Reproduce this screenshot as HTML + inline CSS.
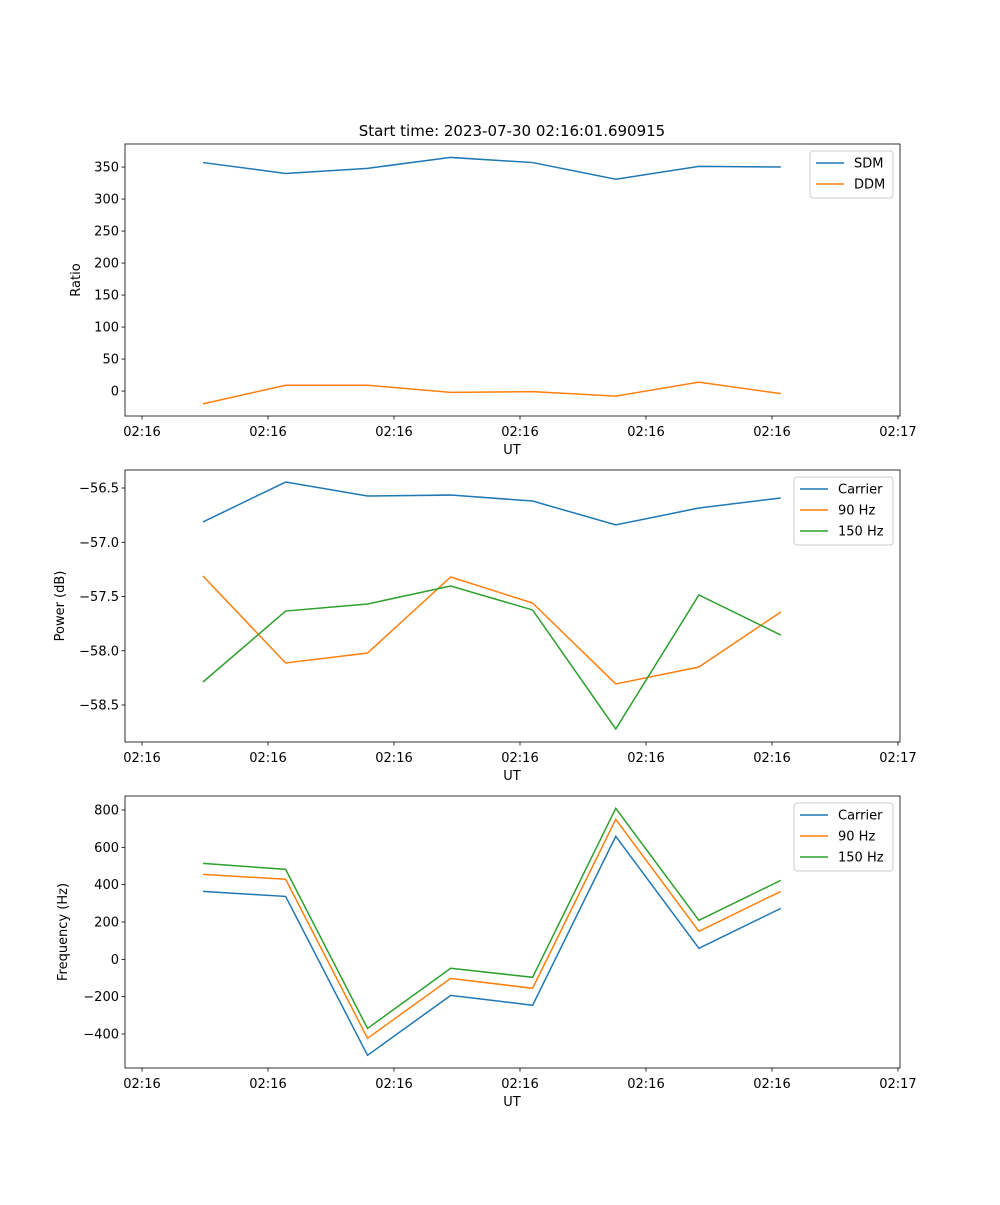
<!DOCTYPE html>
<html><head><meta charset="utf-8"><style>
body{margin:0;background:#fff;}
svg text{font-family:"DejaVu Sans","Liberation Sans",sans-serif;font-size:13px;fill:#000;}
</style></head><body>
<svg id="fig" width="1000" height="1200" xmlns="http://www.w3.org/2000/svg">
<rect width="1000" height="1200" fill="#fff"/>
<text x="512" y="136" text-anchor="middle" font-size="15" style="font-size:15px">Start time: 2023-07-30 02:16:01.690915</text>
</svg>
<script>
const xTicks=[0,10,20,30,40,50,60];
const xTickLabels=["02:16","02:16","02:16","02:16","02:16","02:16","02:17"];
const pointsX=[4.84,11.4,17.9,24.5,31.0,37.6,44.2,50.7];
const sdm=[357,340,348,365,357,331,351,350];
const ddm=[-20,9,9,-2,-1,-8,14,-4];
const ratioTicks=[0,50,100,150,200,250,300,350];
const powCarrier=[-56.813,-56.445,-56.574,-56.565,-56.62,-56.84,-56.684,-56.592];
const pow90=[-57.311,-58.113,-58.021,-57.32,-57.56,-58.306,-58.15,-57.643];
const pow150=[-58.288,-57.634,-57.569,-57.403,-57.624,-58.721,-57.486,-57.855];
const powTicks=[-58.5,-58.0,-57.5,-57.0,-56.5];
const freqCarrier=[364,337,-514,-193,-246,659,59,273];
const freq90=[455,429,-423,-102,-155,750,150,364];
const freq150=[514,482,-370,-48,-96,809,209,423];
const freqTicks=[-400,-200,0,200,400,600,800];

const NS="http://www.w3.org/2000/svg";
const svg=document.getElementById('fig');
function mk(t,a,p){const e=document.createElementNS(NS,t);for(const k in a)e.setAttribute(k,a[k]);(p||svg).appendChild(e);return e;}
const L=125,R=900;
const xs=v=>L+(v+1.35)/(61.51)*(R-L);
function panel(name,top,bot,ymin,ymax,yt,ytl,ylabel,series,legend){
  const g=mk('g',{});
  
  
  const ys=v=>bot-(v-ymin)/(ymax-ymin)*(bot-top);
  const cols=['#1f77b4','#ff7f0e','#2ca02c'];
  series.forEach((s,i)=>{
    const pl=mk('polyline',{points:s.v.map((v,j)=>xs(pointsX[j])+','+ys(v)).join(' '),fill:'none',stroke:cols[i],'stroke-width':1.5},g);
    
    
  });
  mk('rect',{x:L,y:top,width:R-L,height:bot-top,fill:'none',stroke:'#000','stroke-width':0.8},g);
  xTicks.forEach((t,i)=>{const x=xs(t);mk('line',{x1:x,x2:x,y1:bot,y2:bot+3.5,stroke:'#000','stroke-width':0.8},g);
    const tx=mk('text',{x:x,y:bot+20,'text-anchor':'middle'},g);tx.textContent=xTickLabels[i];
    });
  yt.forEach(t=>{const y=ys(t);mk('line',{x1:L-3.5,x2:L,y1:y,y2:y,stroke:'#000','stroke-width':0.8},g);
    const tx=mk('text',{x:L-6,y:y+4.5,'text-anchor':'end'},g);tx.textContent=ytl(t);
    });
  const xl=mk('text',{x:512,y:bot+38,'text-anchor':'middle'},g);xl.textContent='UT';
  
  const lx=legend.x;
  const yl=mk('text',{x:0,y:0,'text-anchor':'middle',transform:`translate(${legend.yl},${(top+bot)/2}) rotate(-90)`},g);yl.textContent=ylabel;
  
  const lg=mk('g',{},g);
  
  const h=series.length*21+5;
  mk('rect',{x:lx,y:top+7,width:893-lx,height:h,rx:3,fill:'#fff',stroke:'#ccc','stroke-width':1},lg);
  series.forEach((s,i)=>{const y=top+19+i*21;
    mk('line',{x1:lx+6,x2:lx+34,y1:y,y2:y,stroke:cols[i],'stroke-width':1.5},lg);
    const t=mk('text',{x:lx+44,y:y+4.5},lg);t.textContent=s.k;
    });
}
panel('ratio-panel',144,416,-39,386,ratioTicks,t=>String(t),'Ratio',[{k:'SDM',v:sdm},{k:'DDM',v:ddm}],{x:810,yl:80});
panel('power-panel',470,742,-58.841,-56.334,powTicks,t=>'\u2212'+Math.abs(t).toFixed(1),'Power (dB)',[{k:'Carrier',v:powCarrier},{k:'90 Hz',v:pow90},{k:'150 Hz',v:pow150}],{x:794,yl:64});
panel('frequency-panel',796,1068,-582,875,freqTicks,t=>t<0?'\u2212'+Math.abs(t):String(t),'Frequency (Hz)',[{k:'Carrier',v:freqCarrier},{k:'90 Hz',v:freq90},{k:'150 Hz',v:freq150}],{x:794,yl:67});
</script>
</body></html>
